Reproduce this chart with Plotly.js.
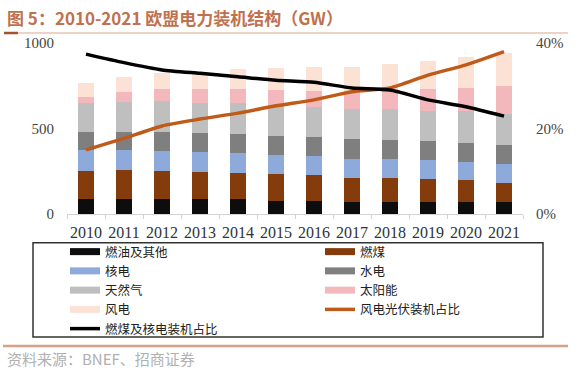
<!DOCTYPE html>
<html>
<head>
<meta charset="utf-8">
<script src="https://cdn.plot.ly/plotly-3.0.1.min.js"></script>
<style>html,body{margin:0;padding:0;background:#fff;}#chart{width:577px;height:381px;}</style>
</head>
<body>
<div id="chart"></div>
<script>
// ---- data (GW) ----
const years = ['2010','2011','2012','2013','2014','2015','2016','2017','2018','2019','2020','2021'];
const oilOther = [86, 86, 86, 86, 86, 78, 76, 68, 68, 68, 72, 72];
const coal     = [165, 171, 167, 160, 156, 154, 150, 143, 143, 139, 127, 111];
const nuclear  = [123, 117, 117, 117, 117, 115, 113, 112, 112, 109, 107, 109];
const hydro    = [107, 107, 111, 111, 109, 111, 111, 114, 110, 111, 111, 110];
const gas      = [166, 176, 180, 177, 179, 179, 178, 177, 179, 177, 185, 183];
const solar    = [35, 54, 70, 80, 82, 88, 93, 101, 113, 125, 137, 165];
const wind     = [86, 92, 96, 101, 117, 127, 137, 147, 152, 164, 177, 190];
// shares (%)
const windSolarShare   = [15.0, 17.7, 20.6, 22.2, 23.6, 25.3, 26.7, 28.6, 29.5, 32.5, 34.9, 38.0];
const coalNuclearShare = [37.4, 35.4, 33.7, 32.9, 32.1, 31.3, 30.8, 29.5, 29.0, 26.7, 25.1, 22.9];
const leftTicks  = [0, 500, 1000];
const rightTicks = [0, 20, 40];
const rightTickText = ['0%', '20%', '40%'];

const barSeries = [
  {name: '燃油及其他', y: oilOther, color: '#0d0d0d'},
  {name: '燃煤',       y: coal,     color: '#843c0c'},
  {name: '核电',       y: nuclear,  color: '#8eaadb'},
  {name: '水电',       y: hydro,    color: '#7f7f7f'},
  {name: '天然气',     y: gas,      color: '#bfbfbf'},
  {name: '太阳能',     y: solar,    color: '#f2b8bc'},
  {name: '风电',       y: wind,     color: '#fbe2d4'}
];

// ---- layout geometry (pixels) ----
const W = 577, H = 381;
const L = 67, R = 523, T = 43, B = 214;
const px = v => (v - L) / (R - L);
const py = v => (B - v) / (B - T);

const data = [];
barSeries.forEach(s => data.push({
  type: 'bar', x: years, y: s.y, name: s.name, legendgroup: s.name,
  marker: {color: s.color, line: {width: 0}}, showlegend: false, hoverinfo: 'skip'
}));
barSeries.forEach(s => data.push({
  type: 'scatter', mode: 'lines', x: [null], y: [null], name: s.name, legendgroup: s.name,
  line: {color: s.color, width: 7}, showlegend: true, hoverinfo: 'skip'
}));
data.push({
  type: 'scatter', mode: 'lines', x: years, y: windSolarShare, yaxis: 'y2',
  name: '风电光伏装机占比', line: {color: '#c05a18', width: 3.5, shape: 'spline', smoothing: 0.6}
});
data.push({
  type: 'scatter', mode: 'lines', x: years, y: coalNuclearShare, yaxis: 'y2',
  name: '燃煤及核电装机占比', line: {color: '#000000', width: 3.5, shape: 'spline', smoothing: 0.6}
});

const layout = {
  width: W, height: H,
  margin: {l: L, r: W - R, t: T, b: H - B, pad: 0, autoexpand: false},
  paper_bgcolor: '#ffffff', plot_bgcolor: '#ffffff',
  font: {family: 'Liberation Serif, serif', color: '#333333'},
  barmode: 'stack', bargap: 0.6,
  showlegend: true,
  title: {
    text: '图 5：2010-2021 欧盟电力装机结构（GW）',
    x: 7 / W, xref: 'container', xanchor: 'left',
    y: 1 - 19 / H, yref: 'container', yanchor: 'middle',
    font: {family: 'Noto Sans CJK SC, sans-serif', size: 17, weight: 'bold', color: '#c0714f'}
  },
  xaxis: {
    type: 'category', showgrid: false, zeroline: false,
    showline: true, linecolor: '#d4d4d4', linewidth: 1,
    ticks: 'outside', tickson: 'boundaries', ticklen: 4, tickcolor: '#d4d4d4',
    tickangle: 0,
    tickfont: {family: 'Liberation Serif, serif', size: 16, color: '#333333'},
    ticklabelstandoff: 4
  },
  yaxis: {
    range: [0, 1000], tickvals: leftTicks, showgrid: false, zeroline: false, showline: false,
    ticks: '', tickfont: {family: 'Liberation Serif, serif', size: 15, color: '#444444'},
    ticklabelstandoff: 12
  },
  yaxis2: {
    overlaying: 'y', side: 'right', range: [0, 40], tickmode: 'array',
    tickvals: rightTicks, ticktext: rightTickText,
    showgrid: false, zeroline: false, showline: false, ticks: '',
    tickfont: {family: 'Liberation Serif, serif', size: 15, color: '#444444'},
    ticklabelstandoff: 12
  },
  legend: {
    orientation: 'h', x: px(65), xanchor: 'left', y: py(237), yanchor: 'top',
    entrywidth: 210, entrywidthmode: 'pixels', traceorder: 'normal',
    font: {family: 'Noto Sans CJK SC, sans-serif', size: 12.5, color: '#222222'},
    bgcolor: 'rgba(0,0,0,0)', borderwidth: 0, itemwidth: 30
  },
  shapes: [
    // title underline
    {type: 'line', xref: 'paper', yref: 'paper', x0: px(5), x1: px(568), y0: py(33), y1: py(33),
     line: {color: '#dba88c', width: 1.2}},
    {type: 'line', xref: 'paper', yref: 'paper', x0: px(4), x1: px(18), y0: py(33), y1: py(33),
     line: {color: '#a4532d', width: 2.5}},
    // legend frame
    {type: 'rect', xref: 'paper', yref: 'paper', x0: px(33), x1: px(543), y0: py(242.7), y1: py(337),
     line: {color: '#333333', width: 1.5}, fillcolor: 'rgba(0,0,0,0)'},
    // source separator
    {type: 'line', xref: 'paper', yref: 'paper', x0: px(3), x1: px(568), y0: py(346), y1: py(346),
     line: {color: '#d6a184', width: 2.5}}
  ],
  annotations: [
    {text: '资料来源：BNEF、招商证券', xref: 'paper', yref: 'paper', x: px(5), y: py(358),
     xanchor: 'left', yanchor: 'middle', showarrow: false,
     font: {family: 'Noto Sans CJK SC, sans-serif', size: 15, color: '#b0b0b0'}}
  ]
};

Plotly.newPlot('chart', data, layout, {staticPlot: true, displayModeBar: false});
</script>
</body>
</html>
